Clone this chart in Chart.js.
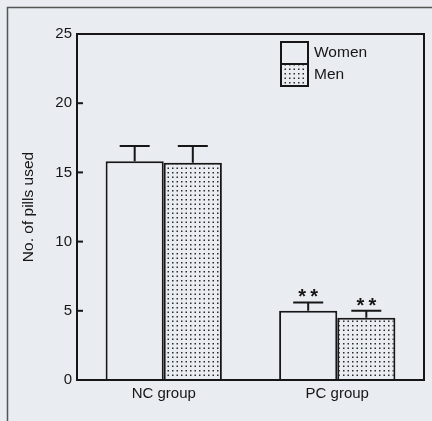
<!DOCTYPE html>
<html>
<head>
<meta charset="utf-8">
<script src="https://cdn.jsdelivr.net/npm/chart.js@4.4.1/dist/chart.umd.min.js"></script>
<style>
  html, body { margin: 0; padding: 0; background: #e9ecf0; }
  #wrap { width: 432px; height: 421px; }
</style>
</head>
<body>
<div id="wrap"><canvas id="chart" width="432" height="421"></canvas></div>
<script>
const categories = ['NC group', 'PC group']
const womenValues = [15.8, 5.0]
const menValues = [15.7, 4.5]
const womenErrors = [1.1, 0.6]
const menErrors = [1.2, 0.5]
const significance = ['', '**']
const yTicks = [0, 5, 10, 15, 20, 25]

const INK = '#161616'
const BG = '#e9ecf0'
const FONT = '"Liberation Sans", Arial, sans-serif'

const makeDots = () => {
  const c = document.createElement('canvas')
  c.width = 9
  c.height = 9
  const g = c.getContext('2d')
  g.fillStyle = BG
  g.fillRect(0, 0, 9, 9)
  g.fillStyle = '#2a2a2a'
  for (const x of [1, 5.5]) {
    for (const y of [1, 5.5]) {
      g.fillRect(x, y, 1.5, 1.5)
    }
  }
  return g.createPattern(c, 'repeat')
}

const dots = makeDots()

const errorSets = [womenErrors, menErrors]

const figurePlugin = {
  id: 'figure',
  beforeDraw(chart) {
    const { ctx, width, height } = chart
    ctx.save()
    ctx.fillStyle = BG
    ctx.fillRect(0, 0, width, height)
    // outer frame of the scanned figure
    ctx.strokeStyle = '#555'
    ctx.lineWidth = 1.5
    ctx.beginPath()
    ctx.moveTo(7.5, height)
    ctx.lineTo(7.5, 7.5)
    ctx.lineTo(width, 7.5)
    ctx.stroke()
    ctx.restore()
  },
  afterDatasetsDraw(chart) {
    const { ctx, chartArea, scales } = chart
    const y = scales.y
    ctx.save()
    ctx.strokeStyle = INK
    ctx.lineWidth = 2

    // error bars (upper half only)
    chart.data.datasets.forEach((ds, di) => {
      const meta = chart.getDatasetMeta(di)
      meta.data.forEach((bar, i) => {
        const top = y.getPixelForValue(ds.data[i] + errorSets[di][i])
        ctx.beginPath()
        ctx.moveTo(bar.x, bar.y)
        ctx.lineTo(bar.x, top)
        ctx.moveTo(bar.x - 15, top)
        ctx.lineTo(bar.x + 15, top)
        ctx.stroke()
        if (significance[i]) {
          ctx.fillStyle = INK
          ctx.font = `bold 20px ${FONT}`
          ctx.textAlign = 'center'
          ctx.textBaseline = 'alphabetic'
          ctx.fillText('*', bar.x - 6, top + 1)
          ctx.fillText('*', bar.x + 6, top + 1)
        }
      })
    })

    // plot frame
    ctx.strokeRect(chartArea.left, chartArea.top, chartArea.right - chartArea.left, chartArea.bottom - chartArea.top)

    // inward ticks
    y.ticks.forEach((t) => {
      const py = y.getPixelForValue(t.value)
      ctx.beginPath()
      ctx.moveTo(chartArea.left, py)
      ctx.lineTo(chartArea.left + 6, py)
      ctx.stroke()
    })

    // legend
    const lx = chartArea.right - 143
    const ly = chartArea.top + 8
    chart.data.datasets.forEach((ds, di) => {
      const by = ly + di * 22
      ctx.fillStyle = ds.backgroundColor
      ctx.fillRect(lx, by, 27, 22)
      ctx.strokeRect(lx, by, 27, 22)
      ctx.fillStyle = INK
      ctx.font = `15.5px ${FONT}`
      ctx.textAlign = 'left'
      ctx.textBaseline = 'middle'
      ctx.fillText(ds.label, lx + 33, by + 11)
    })
    ctx.restore()
  },
}

new Chart(document.getElementById('chart'), {
  type: 'bar',
  data: {
    labels: categories,
    datasets: [
      {
        label: 'Women',
        data: womenValues,
        backgroundColor: BG,
        borderColor: INK,
        borderWidth: 2,
      },
      {
        label: 'Men',
        data: menValues,
        backgroundColor: dots,
        borderColor: INK,
        borderWidth: 2,
      },
    ],
  },
  options: {
    responsive: false,
    animation: false,
    events: [],
    layout: { padding: { left: 0, top: 34, right: 8, bottom: 0 } },
    datasets: {
      bar: { categoryPercentage: 0.67, barPercentage: 1.0 },
    },
    scales: {
      x: {
        grid: { display: false, drawTicks: false },
        border: { display: false },
        ticks: { color: INK, font: { family: FONT, size: 15 }, padding: 5 },
        afterFit(scale) { scale.height = 41 },
      },
      y: {
        min: 0,
        max: 25,
        afterBuildTicks(scale) { scale.ticks = yTicks.map((v) => ({ value: v })) },
        grid: { display: false, drawTicks: false },
        border: { display: false },
        ticks: { color: INK, font: { family: FONT, size: 15 }, padding: 5 },
        title: {
          display: true,
          text: 'No. of pills used',
          color: INK,
          font: { family: FONT, size: 15.5 },
          padding: { top: 19, bottom: 0 },
        },
        afterFit(scale) { scale.width = 77 },
      },
    },
    plugins: {
      legend: { display: false },
      tooltip: { enabled: false },
    },
  },
  plugins: [figurePlugin],
})
</script>
</body>
</html>
